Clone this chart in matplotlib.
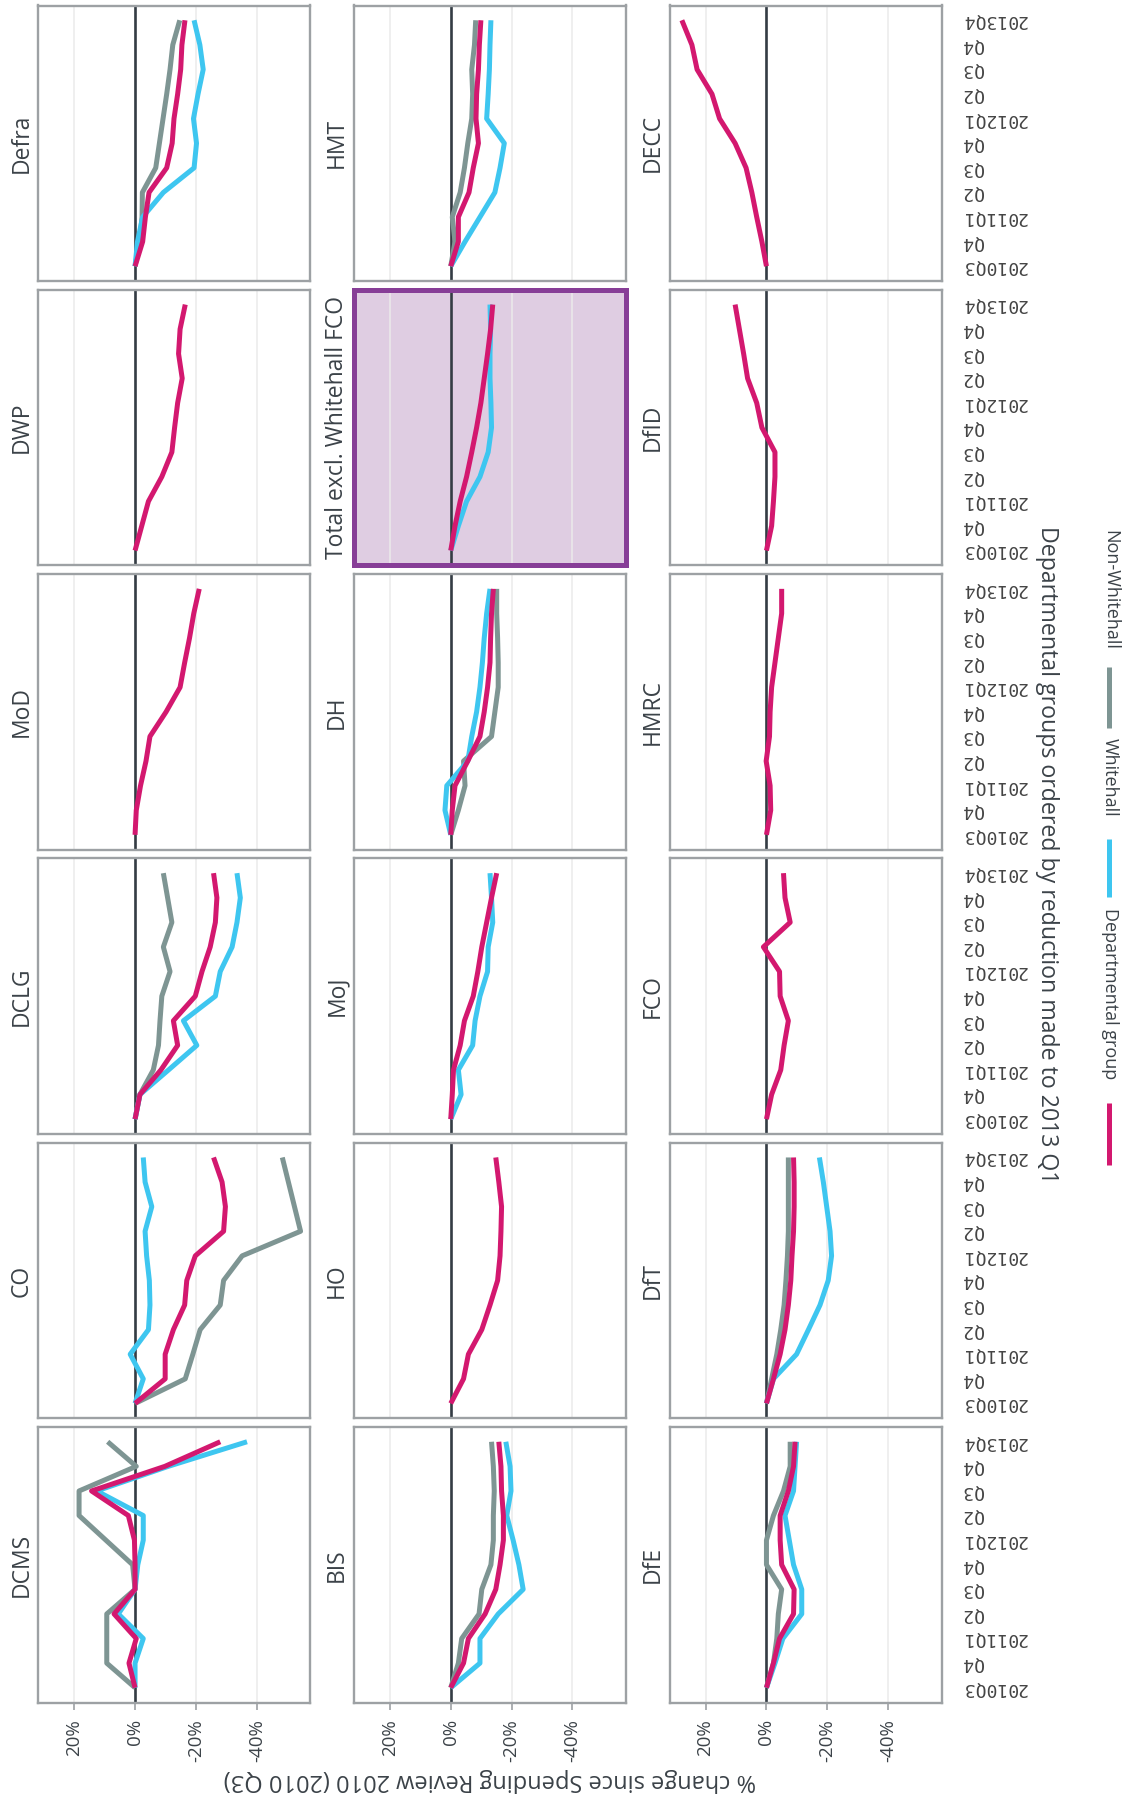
import matplotlib
matplotlib.use('Agg')
import matplotlib.pyplot as plt
from matplotlib.lines import Line2D
import numpy as np

W, H, DPI = 1124, 1798, 100

quarters = ['2010Q3', 'Q4', '2011Q1', 'Q2', 'Q3', 'Q4', '2012Q1', 'Q2', 'Q3', 'Q4', '2013Q4']
pct_ticks = [20, 0, -20, -40]
pct_labels = ['20%', '0%', '-20%', '-40%']

series_names = ['Non-Whitehall', 'Whitehall', 'Departmental group']
series_colors = ['#7E9593', '#3EC6F0', '#D3186F']

# ---- values (% change since 2010 Q3), one list per series ----
defra_dept = [0, -2.5, -3.4, -4.6, -10.4, -12.2, -12.8, -14.0, -15.0, -15.4, -16.4]
defra_wh = [0, -0.8, -2.5, -9.3, -19.4, -20.2, -19.2, -20.7, -22.4, -21.3, -19.4]
defra_nwh = [0, -1.5, -2.3, -2.4, -6.8, -8.0, -9.2, -10.4, -11.5, -12.4, -14.7]

dwp_dept = [0, -2.2, -4.4, -8.8, -12.1, -13.0, -14.0, -15.5, -14.3, -14.8, -16.5]

mod_dept = [0, -0.4, -1.8, -3.6, -4.9, -10.2, -14.8, -16.3, -17.9, -19.3, -21.1]

dclg_dept = [0, -1.6, -8.5, -14.0, -12.6, -19.8, -22.0, -24.7, -26.4, -26.9, -25.8]
dclg_wh = [0, -1.6, -11.0, -20.3, -15.9, -26.4, -28.0, -31.9, -33.5, -34.6, -33.5]
dclg_nwh = [0, -1.6, -6.0, -7.7, -8.2, -8.8, -11.5, -9.3, -12.1, -10.7, -9.3]

co_dept = [0, -9.9, -9.9, -12.6, -16.3, -17.0, -19.8, -29.1, -29.7, -28.6, -25.8]
co_wh = [0, -2.7, 1.6, -4.4, -4.9, -4.7, -3.8, -3.3, -5.5, -3.3, -2.7]
co_nwh = [0, -16.5, -19.0, -21.4, -28.0, -29.1, -35.2, -54.4, -52.4, -50.4, -48.4]

dcms_dept = [0, 2.0, -0.4, 6.9, 0, 0, 0.2, 2.2, 14.3, -9.8, -28.0]
dcms_wh = [0, 0, -2.7, 5.5, 0, -0.9, -2.7, -2.7, 12.6, -10.9, -36.8]
dcms_nwh = [0, 9.3, 9.3, 9.3, 0, 0.8, 9.6, 18.4, 18.4, -0.4, 9.0]

hmt_dept = [0, -2.5, -2.5, -6.0, -7.4, -9.1, -8.3, -8.5, -9.1, -9.4, -9.9]
hmt_wh = [0, -4.7, -9.6, -14.5, -16.2, -17.6, -11.8, -12.3, -12.7, -12.9, -13.2]
hmt_nwh = [0, -1.4, -0.5, -3.1, -4.5, -5.6, -6.9, -7.2, -6.9, -7.8, -8.2]

total_dept = [0, -1.4, -3.1, -5.2, -6.9, -8.5, -9.9, -11.0, -12.1, -13.1, -13.8]
total_wh = [0, -2.5, -5.2, -9.6, -12.3, -13.4, -13.2, -12.9, -12.9, -13.1, -12.9]

dh_dept = [0, -0.5, -1.4, -5.6, -9.6, -11.0, -12.1, -12.9, -13.1, -13.4, -14.0]
dh_wh = [0, 1.9, 1.3, -5.6, -6.9, -8.5, -9.6, -10.4, -11.0, -11.8, -12.9]
dh_nwh = [0, -2.5, -4.7, -4.2, -13.4, -14.5, -15.6, -15.6, -15.4, -15.1, -15.1]

moj_dept = [0, -0.5, -0.9, -3.1, -4.5, -7.4, -8.9, -10.2, -11.8, -13.4, -15.1]
moj_wh = [0, -3.4, -2.5, -7.2, -8.0, -9.6, -12.1, -12.3, -13.8, -13.4, -12.9]

ho_dept = [0, -4.2, -5.8, -10.2, -12.9, -15.4, -16.2, -16.5, -16.7, -15.8, -14.8]

bis_dept = [0, -4.2, -5.8, -11.3, -14.8, -16.2, -17.3, -17.3, -16.7, -16.5, -15.8]
bis_wh = [0, -9.6, -9.6, -15.6, -23.8, -22.4, -20.5, -18.4, -19.8, -19.5, -18.1]
bis_nwh = [0, -2.5, -3.6, -9.3, -10.2, -13.2, -14.0, -14.0, -14.3, -14.0, -13.4]

decc_dept = [0, 1.5, 3.2, 4.8, 6.7, 10.3, 15.4, 17.9, 22.8, 24.5, 27.8]

dfid_dept = [0, -1.7, -2.3, -2.8, -2.8, 1.5, 3.2, 6.2, 7.5, 8.9, 10.3]

hmrc_dept = [0, -1.4, -1.2, 0.1, -1.0, -1.2, -1.7, -2.8, -3.9, -5.0, -5.0]

fco_dept = [0, -1.7, -4.7, -5.8, -7.2, -4.5, -4.3, 1.0, -7.8, -6.1, -5.6]

dft_dept = [0, -2.3, -4.5, -6.1, -7.2, -8.0, -8.4, -8.9, -9.1, -9.1, -8.9]
dft_wh = [0, -2.3, -9.9, -13.8, -17.6, -20.3, -21.4, -20.9, -19.8, -18.7, -17.4]
dft_nwh = [0, -1.7, -3.4, -4.7, -5.8, -6.4, -6.9, -7.2, -7.2, -7.2, -7.2]

dfe_dept = [0, -2.3, -4.3, -8.9, -9.1, -5.0, -4.5, -4.5, -7.2, -8.9, -9.4]
dfe_wh = [0, -2.8, -5.4, -11.6, -11.6, -8.9, -7.5, -6.1, -8.9, -9.4, -9.9]
dfe_nwh = [0, -2.3, -3.4, -3.9, -5.0, 0, 0, -2.3, -5.6, -7.8, -7.8]

panel_grid = [
    ['Defra', 'HMT', 'DECC'],
    ['DWP', 'Total excl. Whitehall FCO', 'DfID'],
    ['MoD', 'DH', 'HMRC'],
    ['DCLG', 'MoJ', 'FCO'],
    ['CO', 'HO', 'DfT'],
    ['DCMS', 'BIS', 'DfE'],
]
highlight_panel = 'Total excl. Whitehall FCO'

panel_data = {
    'Defra': [defra_nwh, defra_wh, defra_dept],
    'DWP': [None, None, dwp_dept],
    'MoD': [None, None, mod_dept],
    'DCLG': [dclg_nwh, dclg_wh, dclg_dept],
    'CO': [co_nwh, co_wh, co_dept],
    'DCMS': [dcms_nwh, dcms_wh, dcms_dept],
    'HMT': [hmt_nwh, hmt_wh, hmt_dept],
    'Total excl. Whitehall FCO': [None, total_wh, total_dept],
    'DH': [dh_nwh, dh_wh, dh_dept],
    'MoJ': [None, moj_wh, moj_dept],
    'HO': [None, None, ho_dept],
    'BIS': [bis_nwh, bis_wh, bis_dept],
    'DECC': [None, None, decc_dept],
    'DfID': [None, None, dfid_dept],
    'HMRC': [None, None, hmrc_dept],
    'FCO': [None, None, fco_dept],
    'DfT': [dft_nwh, dft_wh, dft_dept],
    'DfE': [dfe_nwh, dfe_wh, dfe_dept],
}

# ---- style ----
plt.rcParams['font.family'] = ['Open Sans', 'DejaVu Sans']
TXT = '#3B4248'
FRAME = '#9DA1A4'
GRID = '#EBEBEB'
ZERO = '#343C44'
HL_FACE = '#DFCDE2'
HL_EDGE = '#873E97'

fig = plt.figure(figsize=(W / DPI, H / DPI), dpi=DPI)
fig.patch.set_facecolor('white')

col_left = [38.3, 354.0, 669.7]
panel_w = 272.0
row_top0, row_pitch, panel_h = 5.5, 284.3, 275.5

ypos = np.arange(len(quarters))

for r, row in enumerate(panel_grid):
    for c, name in enumerate(row):
        left = col_left[c]
        top = row_top0 + r * row_pitch
        ax = fig.add_axes([left / W, 1 - (top + panel_h) / H, panel_w / W, panel_h / H])
        hl = (name == highlight_panel)
        ax.set_facecolor(HL_FACE if hl else 'white')
        ax.set_xlim(31.8, -57.6)
        ax.set_ylim(-0.6, len(quarters) - 1 + 0.6)
        ax.set_xticks(pct_ticks)
        ax.grid(axis='x', color=GRID, lw=1.1, zorder=0)
        ax.set_axisbelow(True)
        ax.axvline(0, color=ZERO, lw=1.9, zorder=1.5)
        for vals, col in zip(panel_data[name], series_colors):
            if vals is None:
                continue
            ax.plot(vals, ypos, color=col, lw=3.6, solid_joinstyle='round',
                    solid_capstyle='butt', zorder=2)
        for sp in ax.spines.values():
            sp.set_color(HL_EDGE if hl else FRAME)
            sp.set_linewidth(3.6 if hl else 1.7)
        # x ticks
        if r == len(panel_grid) - 1:
            ax.set_xticklabels(pct_labels, rotation=90, va='top', ha='center',
                               fontsize=13.5, color=TXT)
            ax.tick_params(axis='x', length=5, width=1.2, color=FRAME, pad=7)
        else:
            ax.tick_params(axis='x', length=0, labelbottom=False)
        # y ticks (time)
        ax.set_yticks(ypos)
        if c == len(row) - 1:
            ax.yaxis.tick_right()
            ax.set_yticklabels(quarters, rotation=180, va='center', ha='left',
                               fontfamily='DejaVu Sans Mono', fontsize=13.0, color='#444444')
            ax.tick_params(axis='y', length=0, pad=14)
        else:
            ax.tick_params(axis='y', length=0, labelleft=False, labelright=False)
        # panel title
        fig.text((left - 17) / W, 1 - (top + panel_h / 2) / H, name, rotation=90,
                 ha='center', va='center', fontsize=16.5, color=TXT)

# axis titles
fig.text(490 / W, 1 - 1780 / H, '% change since Spending Review 2010 (2010 Q3)',
         rotation=180, ha='center', va='center', fontsize=17, color=TXT)
fig.text(1047 / W, 1 - 855 / H, 'Departmental groups ordered by reduction made to 2013 Q1',
         rotation=270, ha='center', va='center', fontsize=16.7, color=TXT)

# legend (vertical, rotated)
leg_x = 1109
leg_keys = [(series_colors[0], 667, 728), (series_colors[1], 839, 897), (series_colors[2], 1103, 1165)]
leg_texts = [('Non-Whitehall', 590), ('Whitehall', 777), ('Departmental group', 994)]
for col, y0, y1 in leg_keys:
    fig.add_artist(Line2D([leg_x / W, leg_x / W], [1 - y0 / H, 1 - y1 / H],
                          transform=fig.transFigure, color=col, lw=3.6, solid_capstyle='butt'))
for txt, yc in leg_texts:
    fig.text((leg_x + 1) / W, 1 - yc / H, txt, rotation=270, ha='center', va='center',
             fontsize=13, color=TXT)

fig.savefig('out.png', dpi=DPI, facecolor='white')
